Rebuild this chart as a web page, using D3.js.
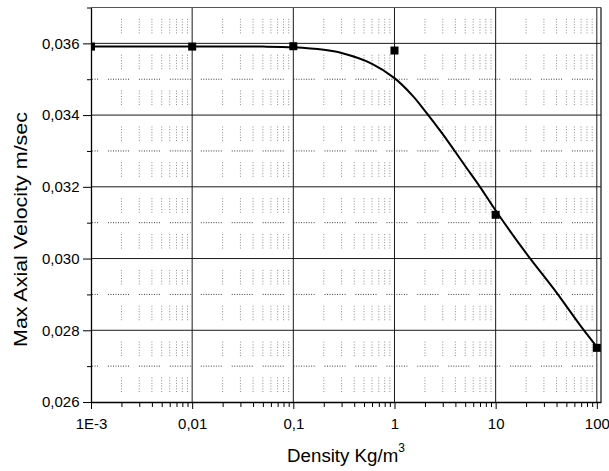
<!DOCTYPE html>
<html><head><meta charset="utf-8">
<script src="https://cdn.jsdelivr.net/npm/d3@7"></script>
<style>
html,body{margin:0;padding:0;background:#fff;}
svg{display:block;background:#fff;}
text{font-family:"Liberation Sans",Arial,Helvetica,sans-serif;fill:#000;}
</style></head><body>
<svg id="chart" width="609" height="471"></svg>
<script>
// ---- data ----
const xTicks = [0.001, 0.01, 0.1, 1, 10, 100];
const xTickLabels = ["1E-3", "0,01", "0,1", "1", "10", "100"];
const xDecades = [0.001, 0.01, 0.1, 1, 10];
const xMinorMultipliers = [2, 3, 4, 5, 6, 7, 8, 9];
const yTicks = [0.026, 0.028, 0.030, 0.032, 0.034, 0.036];
const yTickLabels = ["0,026", "0,028", "0,030", "0,032", "0,034", "0,036"];
const yMinorTicks = [0.027, 0.029, 0.031, 0.033, 0.035, 0.037];

const pointX = [0.001, 0.01, 0.1, 1, 10, 100];
const pointY = [0.03591, 0.03591, 0.03592, 0.03580, 0.03122, 0.02751];

const curveX = [0.001, 0.01, 0.05, 0.1, 0.2, 0.3, 0.6, 1, 1.5, 2, 3, 5, 7, 10, 20, 40, 70, 100];
const curveY = [0.03591, 0.03591, 0.03591, 0.03589, 0.03582, 0.03573, 0.03543, 0.03503, 0.03455, 0.03412,
                0.03347, 0.03258, 0.03200, 0.03134, 0.03015, 0.02905, 0.02810, 0.02754];

const xLabel = "Density Kg/m";
const xLabelSup = "3";
const yLabel = "Max Axial Velocity m/sec";

// ---- layout ----
const W = 609, H = 471;
const L = 91, R = 601, T = 7.5, B = 402;
const svg = d3.select("#chart");

const x = d3.scaleLog().domain([0.001, 110]).range([L, R]);
const y = d3.scaleLinear().domain([0.026, 0.037]).range([B, T]);

const xMinor = [];
xDecades.forEach(d => xMinorMultipliers.forEach(k => xMinor.push(k * d)));

function dotPattern(on, off, count, period) {
  const arr = [];
  for (let i = 0; i < count; i++) arr.push(on, off);
  arr[arr.length - 1] += period - count * (on + off);
  return arr.join(",");
}

svg.append("defs").append("clipPath").attr("id", "plotclip")
  .append("rect").attr("x", L).attr("y", T).attr("width", R - L).attr("height", B - T);

// minor vertical dotted grid
const vStep = y(0.026) - y(0.027);
svg.append("g").selectAll("line").data(xMinor).join("line")
  .attr("x1", d => x(d)).attr("x2", d => x(d))
  .attr("y1", B).attr("y2", T)
  .attr("stroke", "#8a8a8a").attr("stroke-width", 1)
  .attr("stroke-dasharray", dotPattern(1, 1.7, 6, vStep))
  .attr("stroke-dashoffset", vStep - 10);

// minor horizontal dotted grid
svg.append("g").selectAll("line").data(yMinorTicks.filter(v => v < 0.037)).join("line")
  .attr("x1", L).attr("x2", R)
  .attr("y1", d => y(d)).attr("y2", d => y(d))
  .attr("stroke", "#3a3a3a").attr("stroke-width", 1)
  .attr("stroke-dasharray", dotPattern(1, 1.5, 9, 30.93))
  .attr("stroke-dashoffset", 13.9);

// major grid
svg.append("g").selectAll("line").data(yTicks.filter(v => v > 0.026)).join("line")
  .attr("x1", L).attr("x2", R)
  .attr("y1", d => y(d)).attr("y2", d => y(d))
  .attr("stroke", "#1a1a1a").attr("stroke-width", 1);
svg.append("g").selectAll("line").data(xTicks.filter(v => v > 0.001)).join("line")
  .attr("x1", d => x(d)).attr("x2", d => x(d))
  .attr("y1", B).attr("y2", T)
  .attr("stroke", "#1a1a1a").attr("stroke-width", 1);

// frame top and right
svg.append("line").attr("x1", L).attr("x2", R).attr("y1", T).attr("y2", T)
  .attr("stroke", "#555").attr("stroke-width", 1);
svg.append("line").attr("x1", R).attr("x2", R).attr("y1", T).attr("y2", B)
  .attr("stroke", "#222").attr("stroke-width", 1.3);

// curve
const plot = svg.append("g").attr("clip-path", "url(#plotclip)");
const curveData = curveX.map((v, i) => [v, curveY[i]]);
plot.append("path").datum(curveData)
  .attr("d", d3.line().x(d => x(d[0])).y(d => y(d[1])).curve(d3.curveCatmullRom.alpha(0.5)))
  .attr("fill", "none").attr("stroke", "#000").attr("stroke-width", 2);

// points
const ms = 8;
plot.selectAll("rect.pt").data(pointX.map((v, i) => [v, pointY[i]])).join("rect")
  .attr("class", "pt")
  .attr("x", d => x(d[0]) - ms / 2).attr("y", d => y(d[1]) - ms / 2)
  .attr("width", ms).attr("height", ms).attr("fill", "#000");

// axes
function styleAxis(g) {
  g.attr("font-family", null).attr("font-size", null);
  g.selectAll("path.domain").attr("stroke", "#000").attr("stroke-width", 1.3);
  g.selectAll(".tick line").attr("stroke", "#000").attr("stroke-width", 1);
  g.selectAll(".tick text").style("font-size", "15px").attr("fill", "#000");
}

svg.append("g").attr("transform", `translate(0,${B})`)
  .call(d3.axisBottom(x).tickValues(xMinor).tickSize(5).tickFormat("").tickSizeOuter(0))
  .call(g => { styleAxis(g); g.select("path.domain").remove(); });
svg.append("g").attr("transform", `translate(0,${B})`)
  .call(d3.axisBottom(x).tickValues(xTicks).tickFormat((d, i) => xTickLabels[i])
    .tickSize(7).tickPadding(9.3).tickSizeOuter(0))
  .call(styleAxis);

svg.append("g").attr("transform", `translate(${L},0)`)
  .call(d3.axisLeft(y).tickValues(yMinorTicks).tickSize(4).tickFormat("").tickSizeOuter(0))
  .call(g => { styleAxis(g); g.select("path.domain").remove(); });
svg.append("g").attr("transform", `translate(${L},0)`)
  .call(d3.axisLeft(y).tickValues(yTicks).tickFormat((d, i) => yTickLabels[i])
    .tickSize(8).tickPadding(3.5).tickSizeOuter(0))
  .call(styleAxis);

// titles
const xt = svg.append("text").attr("x", (L + R) / 2).attr("y", 461.7)
  .attr("text-anchor", "middle").style("font-size", "18.7px");
xt.append("tspan").text(xLabel);
xt.append("tspan").text(xLabelSup).style("font-size", "12px").attr("dy", -10);

svg.append("text")
  .attr("transform", `translate(26.5,229.5) rotate(-90)`)
  .attr("text-anchor", "middle").style("font-size", "18.5px")
  .attr("textLength", 235).attr("lengthAdjust", "spacingAndGlyphs")
  .text(yLabel);
</script>
</body></html>
